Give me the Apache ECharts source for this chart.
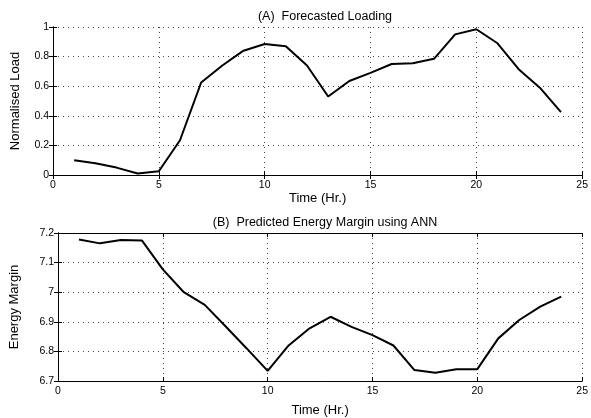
<!DOCTYPE html>
<html>
<head>
<meta charset="utf-8">
<script src="https://cdn.jsdelivr.net/npm/echarts@6/dist/echarts.min.js"></script>
<style>
  html, body { margin: 0; padding: 0; background: #fff; }
  #chart { width: 591px; height: 418px; }
</style>
</head>
<body>
<div id="chart"></div>
<script>
// hours 1..24
const hours = [1, 2, 3, 4, 5, 6, 7, 8, 9, 10, 11, 12, 13, 14, 15, 16, 17, 18, 19, 20, 21, 22, 23, 24]
// (A) forecasted normalised load
const loadValues = [0.10, 0.08, 0.05, 0.01, 0.025, 0.235, 0.625, 0.74, 0.84, 0.885, 0.87, 0.74, 0.53, 0.635, 0.69, 0.75, 0.755, 0.785, 0.95, 0.985, 0.89, 0.715, 0.59, 0.425]
// (B) predicted energy margin
const marginValues = [7.178, 7.165, 7.176, 7.175, 7.077, 7.0, 6.957, 6.884, 6.81, 6.734, 6.82, 6.878, 6.917, 6.883, 6.855, 6.82, 6.737, 6.728, 6.74, 6.74, 6.844, 6.906, 6.951, 6.985]
const loadTicks = [0, 0.2, 0.4, 0.6, 0.8, 1]
const marginTicks = [6.7, 6.8, 6.9, 7, 7.1, 7.2]

const chart = echarts.init(document.getElementById('chart'))
const font = 'Liberation Sans, Arial, sans-serif'
const dotted = { show: true, lineStyle: { color: '#444', type: [1, 4], width: 1 } }

function xAxes(gridIndex, nameGap) {
  return [
    {
      gridIndex, type: 'value', min: 0, max: 25, interval: 5,
      name: 'Time (Hr.)', nameLocation: 'middle', nameGap,
      nameTextStyle: { fontFamily: font, fontSize: 13, color: '#000' },
      axisLine: { lineStyle: { color: '#000', width: 1 } },
      axisTick: { inside: true, length: 4, lineStyle: { color: '#000' } },
      axisLabel: { fontFamily: font, fontSize: 10.5, color: '#000', margin: 5 },
      splitLine: dotted
    },
    {
      gridIndex, type: 'value', min: 0, max: 25, interval: 5, position: 'top',
      axisLine: { lineStyle: { color: '#000', width: 1 } },
      axisTick: { inside: true, length: 4, lineStyle: { color: '#000' } },
      axisLabel: { show: false }, splitLine: { show: false }
    }
  ]
}

function yAxes(gridIndex, ticks, name, nameGap) {
  const min = ticks[0], max = ticks[ticks.length - 1]
  const step = +(ticks[1] - ticks[0]).toFixed(2)
  return [
    {
      gridIndex, type: 'value', min, max, interval: step,
      name, nameLocation: 'middle', nameGap,
      nameTextStyle: { fontFamily: font, fontSize: 13, color: '#000' },
      axisLine: { show: true, lineStyle: { color: '#000', width: 1 } },
      axisTick: { show: true, inside: true, length: 4, lineStyle: { color: '#000' } },
      axisLabel: { fontFamily: font, fontSize: 10.5, color: '#000', margin: 4 },
      splitLine: dotted
    },
    {
      gridIndex, type: 'value', min, max, interval: step, position: 'right',
      axisLine: { show: true, lineStyle: { color: '#000', width: 1 } },
      axisTick: { show: true, inside: true, length: 4, lineStyle: { color: '#000' } },
      axisLabel: { show: false }, splitLine: { show: false }
    }
  ]
}

const option = {
  animation: false,
  backgroundColor: '#fff',
  title: [
    { text: '(A)  Forecasted Loading', left: 320, top: 5, textAlign: 'center',
      textStyle: { fontFamily: font, fontSize: 12.5, fontWeight: 'normal', color: '#000' } },
    { text: '(B)  Predicted Energy Margin using ANN', left: 320, top: 211, textAlign: 'center',
      textStyle: { fontFamily: font, fontSize: 12.5, fontWeight: 'normal', color: '#000' } }
  ],
  grid: [
    { left: 53, right: 4, top: 27, height: 148 },
    { left: 53, right: 4, top: 233, height: 148 }
  ],
  xAxis: [...xAxes(0, 17), ...xAxes(1, 23)],
  yAxis: [...yAxes(0, loadTicks, 'Normalised Load', 31), ...yAxes(1, marginTicks, 'Energy Margin', 37)],
  series: [
    {
      type: 'line', xAxisIndex: 0, yAxisIndex: 0, symbol: 'none',
      lineStyle: { color: '#000', width: 2 },
      data: hours.map((h, i) => [h, loadValues[i]])
    },
    {
      type: 'line', xAxisIndex: 2, yAxisIndex: 2, symbol: 'none',
      lineStyle: { color: '#000', width: 2 },
      data: hours.map((h, i) => [h, marginValues[i]])
    }
  ]
}
chart.setOption(option)
</script>
</body>
</html>
